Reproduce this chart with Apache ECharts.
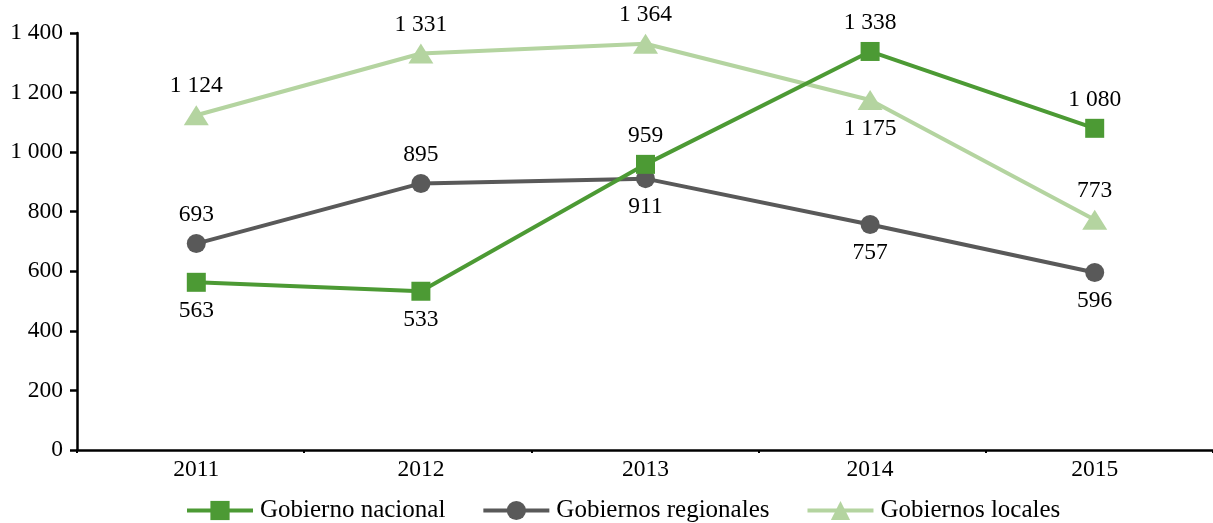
<!DOCTYPE html>
<html>
<head>
<meta charset="utf-8">
<script src="https://cdn.jsdelivr.net/npm/echarts@6/dist/echarts.min.js"></script>
<style>
  html, body { margin: 0; padding: 0; background: #fff; }
  #chart { width: 1213px; height: 523px; }
</style>
</head>
<body>
<div id="chart"></div>
<script>
// Years on the category axis
const years = ['2011', '2012', '2013', '2014', '2015'];

// Series values
const gobiernoNacional = [563, 533, 959, 1338, 1080];
const gobiernosRegionales = [693, 895, 911, 757, 596];
const gobiernosLocales = [1124, 1331, 1364, 1175, 773];

// Value axis ticks
const yTicks = [0, 200, 400, 600, 800, 1000, 1200, 1400];

// Where each value label sits relative to its point
const placeNacional = ['bottom', 'bottom', 'top', 'top', 'top'];
const placeRegionales = ['top', 'top', 'bottom', 'bottom', 'bottom'];
const placeLocales = ['top', 'top', 'top', 'bottom', 'top'];

const FONT = '"Liberation Serif", "DejaVu Serif", serif';
const NUM_SIZE = 23.5;

// Spanish-style thousands grouping with a space: 1 400
function fmt(v) {
  return String(v).replace(/\B(?=(\d{3})+(?!\d))/g, ' ');
}

function withLabels(values, places) {
  return values.map((v, i) => ({
    value: v,
    label: { position: places[i] }
  }));
}

const chart = echarts.init(document.getElementById('chart'), null, { renderer: 'canvas' });

const labelStyle = {
  show: true,
  distance: 7,
  color: '#000',
  fontFamily: FONT,
  fontSize: NUM_SIZE,
  formatter: p => fmt(p.value)
};

chart.setOption({
  animation: false,
  backgroundColor: '#fff',
  grid: [
    { left: 84, right: 6, top: 33, bottom: 73, containLabel: false },
    { left: 77, right: 0, top: 33, bottom: 73, containLabel: false }
  ],
  legend: {
    left: 180,
    top: 493,
    itemWidth: 66,
    itemHeight: 24,
    itemGap: 36,
    textStyle: { fontFamily: FONT, fontSize: 25, color: '#000', padding: [0, 0, 0, 2] },
    lineStyle: { width: 4 },
    data: ['Gobierno nacional', 'Gobiernos regionales', 'Gobiernos locales']
  },
  xAxis: [
    {
      type: 'category',
      gridIndex: 0,
      data: years,
      boundaryGap: true,
      axisLine: { show: false },
      axisTick: { show: false },
      axisLabel: {
        margin: 8,
        color: '#000',
        fontFamily: FONT,
        fontSize: NUM_SIZE
      }
    },
    {
      // Axis line and category separators across the full plot width
      type: 'category',
      gridIndex: 1,
      data: ['', '', '', '', ''],
      boundaryGap: true,
      axisLine: { show: true, lineStyle: { color: '#000', width: 2.5 } },
      axisTick: { show: true, length: 3, lineStyle: { color: '#000', width: 2 } },
      axisLabel: { show: false }
    }
  ],
  yAxis: [
    {
      type: 'value',
      gridIndex: 0,
      min: yTicks[0],
      max: yTicks[yTicks.length - 1],
      interval: yTicks[1] - yTicks[0],
      offset: 7,
      axisLine: { show: true, lineStyle: { color: '#000', width: 2.5 } },
      axisTick: { show: true, length: 7, lineStyle: { color: '#000', width: 2.5 } },
      splitLine: { show: false },
      axisLabel: {
        margin: 14,
        color: '#000',
        fontFamily: FONT,
        fontSize: NUM_SIZE,
        formatter: v => fmt(v)
      }
    },
    {
      type: 'value',
      gridIndex: 1,
      min: 0,
      max: 1400,
      show: false
    }
  ],
  series: [
    {
      name: 'Gobierno nacional',
      type: 'line',
      xAxisIndex: 0,
      yAxisIndex: 0,
      data: withLabels(gobiernoNacional, placeNacional),
      symbol: 'rect',
      symbolSize: 19,
      lineStyle: { color: '#4c9a34', width: 4 },
      itemStyle: { color: '#4c9a34' },
      label: labelStyle,
      z: 4
    },
    {
      name: 'Gobiernos regionales',
      type: 'line',
      xAxisIndex: 0,
      yAxisIndex: 0,
      data: withLabels(gobiernosRegionales, placeRegionales),
      symbol: 'circle',
      symbolSize: 19,
      lineStyle: { color: '#595959', width: 4 },
      itemStyle: { color: '#595959' },
      label: labelStyle,
      z: 3
    },
    {
      name: 'Gobiernos locales',
      type: 'line',
      xAxisIndex: 0,
      yAxisIndex: 0,
      data: withLabels(gobiernosLocales, placeLocales),
      symbol: 'triangle',
      symbolSize: [25, 20],
      lineStyle: { color: '#b4d4a0', width: 4 },
      itemStyle: { color: '#b4d4a0' },
      label: labelStyle,
      z: 2
    }
  ]
});
</script>
</body>
</html>
